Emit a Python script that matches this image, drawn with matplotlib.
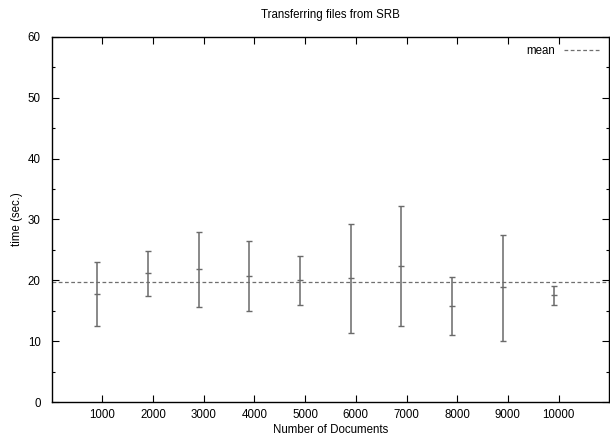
import matplotlib

matplotlib.use('Agg')
import matplotlib.pyplot as plt
from matplotlib.ticker import MultipleLocator

# Error bar data
docs = [900, 1900, 2900, 3900, 4900, 5900, 6900, 7900, 8900, 9900]
mid_time = [17.8, 21.2, 21.8, 20.7, 20.0, 20.4, 22.4, 15.8, 18.9, 17.6]
low_time = [12.5, 17.5, 15.6, 15.0, 15.9, 11.4, 12.5, 11.0, 10.1, 15.9]
high_time = [23.1, 24.9, 27.9, 26.5, 24.0, 29.3, 32.2, 20.6, 27.5, 19.1]
mean_time = 19.7

x_ticks = [1000, 2000, 3000, 4000, 5000, 6000, 7000, 8000, 9000, 10000]

plt.rcParams['font.family'] = ['Liberation Sans', 'DejaVu Sans']
plt.rcParams['font.size'] = 8.3

W, H = 610, 436
fig = plt.figure(figsize=(W / 100, H / 100), dpi=100)
ax = fig.add_axes([51.7 / W, 1 - 402.3 / H, (609.3 - 51.7) / W, (402.3 - 36.7) / H])

lower = [m - lo for m, lo in zip(mid_time, low_time)]
upper = [hi - m for m, hi in zip(mid_time, high_time)]
ax.errorbar(docs, mid_time, yerr=[lower, upper], fmt='_', color='#6a6a6a',
            ecolor='#6a6a6a', elinewidth=1.1, capsize=2.5, capthick=1.0,
            markersize=5, markeredgewidth=1.0, zorder=3)
ax.axhline(mean_time, color='#6f6f6f', linestyle=(0, (3, 2)), linewidth=0.9,
           label='mean', zorder=2)

ax.set_xlim(0, 11000)
ax.set_ylim(0, 60)
ax.set_xticks(x_ticks)
ax.yaxis.set_major_locator(MultipleLocator(10))
ax.yaxis.set_minor_locator(MultipleLocator(5))
ax.tick_params(which='both', direction='in', top=True, right=True, width=0.8, color='black')
ax.tick_params(which='major', length=5)
ax.tick_params(which='minor', length=2.5)
ax.tick_params(axis='x', pad=5)
ax.tick_params(axis='y', pad=8)
for side in ax.spines.values():
    side.set_linewidth(1.0)

ax.set_ylabel('time (sec.)')
ax.yaxis.set_label_coords(-29 / (609.3 - 51.7), 0.5)
fig.text(0.5 * (51.7 + 609.3) / W, 1 - 15 / H, 'Transferring files from SRB',
         ha='center', va='center')
fig.text(0.5 * (51.7 + 609.3) / W, 1 - 429.5 / H, 'Number of Documents',
         ha='center', va='center')

leg = ax.legend(loc='upper right', frameon=False, handlelength=3.2,
                markerfirst=False, borderaxespad=0.3, handletextpad=0.8)

fig.savefig('out.png', dpi=100)
